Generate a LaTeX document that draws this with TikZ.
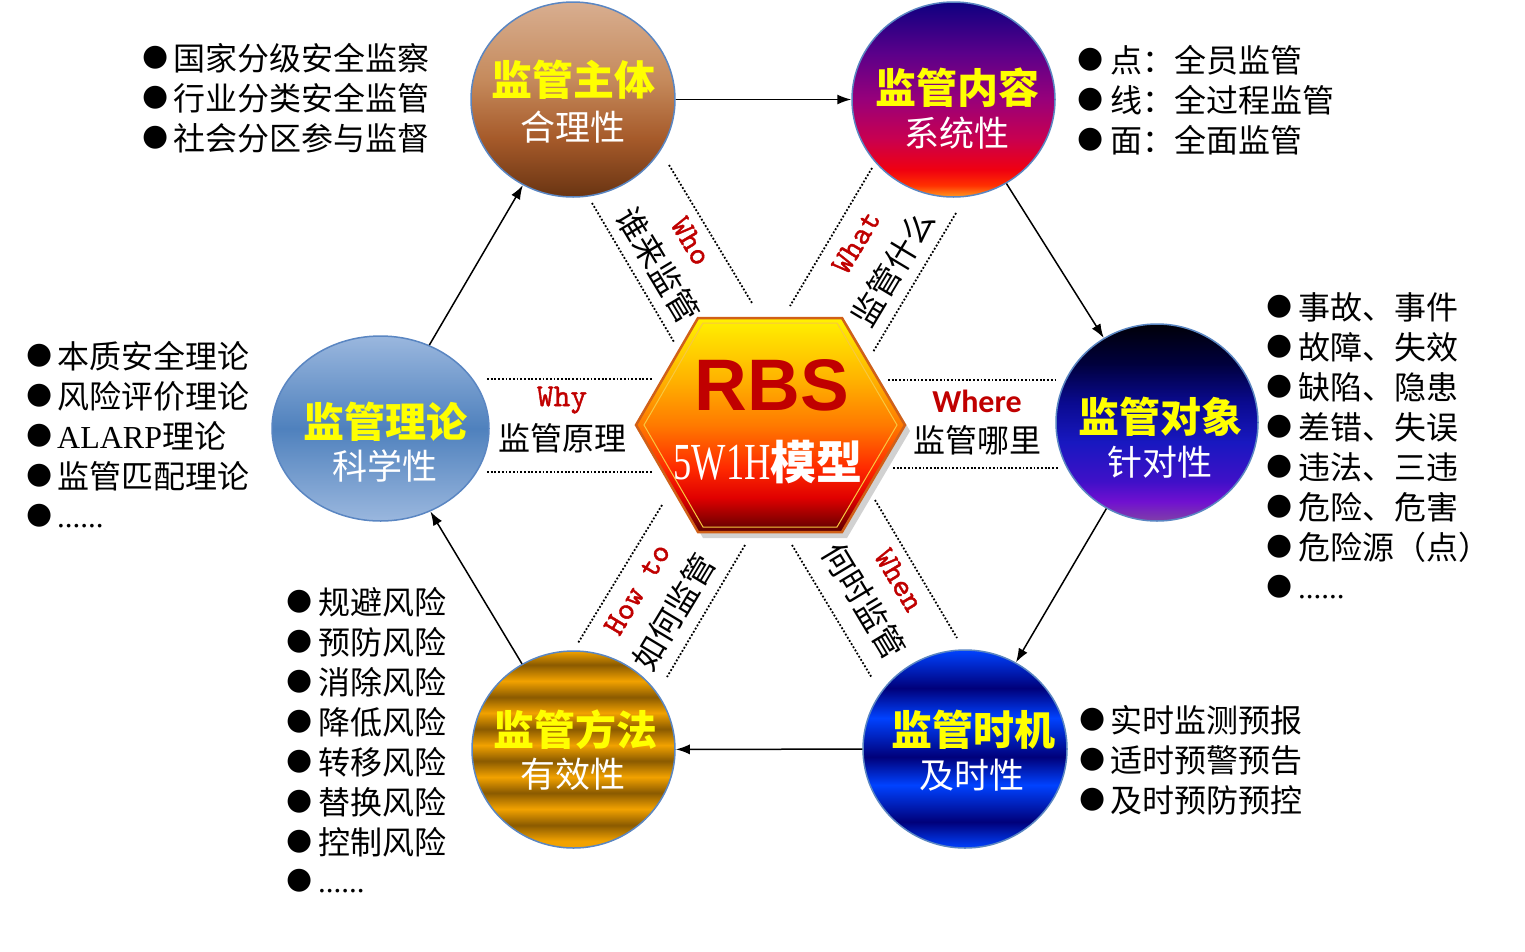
\documentclass[tikz,border=0pt]{standalone}
\usepackage{fontspec}
\setmainfont{Liberation Serif}
\newfontfamily\cjk{Noto Sans CJK SC}
\newfontfamily\sym{DejaVu Sans}
\newfontfamily\narrowserif[FakeStretch=0.7]{Liberation Serif}
\newfontfamily\redmono[FakeBold=1.2]{lmmono10-regular.otf}
\newfontfamily\sansb{Liberation Sans}
\newfontfamily\carl{Carlito}
\usetikzlibrary{shapes.geometric,arrows.meta}

\definecolor{myred}{HTML}{C00000}
\definecolor{titleyellow}{HTML}{FFFF00}
\definecolor{circborder}{HTML}{5A86C2}
\definecolor{br1}{HTML}{D8AE90}
\definecolor{br2}{HTML}{C58A5C}
\definecolor{br3}{HTML}{A65A2A}
\definecolor{br4}{HTML}{693412}
\definecolor{pu1}{HTML}{0E0080}
\definecolor{pu2}{HTML}{5A008A}
\definecolor{pu3}{HTML}{98007A}
\definecolor{pu4}{HTML}{C80050}
\definecolor{pu5}{HTML}{F00010}
\definecolor{pu6}{HTML}{FF3000}
\definecolor{pu7}{HTML}{FF9A20}
\definecolor{db1}{HTML}{000008}
\definecolor{db2}{HTML}{00003C}
\definecolor{db3}{HTML}{0A0A90}
\definecolor{db4}{HTML}{1818C0}
\definecolor{db5}{HTML}{4010C8}
\definecolor{db6}{HTML}{7010D0}
\definecolor{db7}{HTML}{8040A8}
\definecolor{lb1}{HTML}{9AB7DE}
\definecolor{lb2}{HTML}{4F81BD}
\definecolor{hx1}{HTML}{FFF200}
\definecolor{hx2}{HTML}{FFB400}
\definecolor{hx3}{HTML}{FF7A00}
\definecolor{hx4}{HTML}{FF2A00}
\definecolor{hx5}{HTML}{E00000}
\definecolor{hx6}{HTML}{5A0000}
\definecolor{hexborder}{HTML}{D06018}
\definecolor{hexinner}{HTML}{F8C840}
\definecolor{ob}{HTML}{F2A200}
\definecolor{od}{HTML}{8A5A00}
\definecolor{sb}{HTML}{0042FF}
\definecolor{sd}{HTML}{00007A}

\pgfdeclareverticalshading{brownsh}{100bp}{color(0bp)=(br4); color(25bp)=(br4); color(40bp)=(br3); color(55bp)=(br2); color(75bp)=(br1); color(100bp)=(br1)}
\pgfdeclareverticalshading{purplesh}{100bp}{color(0bp)=(pu7); color(25bp)=(pu7); color(28bp)=(pu6); color(32bp)=(pu5); color(40bp)=(pu4); color(50bp)=(pu3); color(62bp)=(pu2); color(75bp)=(pu1); color(100bp)=(pu1)}
\pgfdeclareverticalshading{darkbluesh}{100bp}{color(0bp)=(db7); color(25bp)=(db7); color(30bp)=(db6); color(35bp)=(db5); color(45bp)=(db4); color(55bp)=(db3); color(65bp)=(db2); color(75bp)=(db1); color(100bp)=(db1)}
\pgfdeclareverticalshading{lightbluesh}{100bp}{color(0bp)=(lb1); color(25bp)=(lb1); color(50bp)=(lb2); color(75bp)=(lb1); color(100bp)=(lb1)}
\pgfdeclareverticalshading{hexsh}{100bp}{color(0bp)=(hx6); color(25bp)=(hx6); color(33bp)=(hx5); color(40bp)=(hx4); color(50bp)=(hx3); color(61bp)=(hx2); color(75bp)=(hx1); color(100bp)=(hx1)}
\pgfdeclareverticalshading{orgband}{100bp}{color(0bp)=(ob); color(25bp)=(ob); color(26.8bp)=(ob); color(30.8bp)=(od); color(34.9bp)=(ob); color(39bp)=(od); color(43bp)=(ob); color(47.1bp)=(od); color(51.1bp)=(ob); color(55.2bp)=(od); color(59.3bp)=(ob); color(63.3bp)=(od); color(67.4bp)=(ob); color(71.5bp)=(od); color(75bp)=(ob); color(100bp)=(ob)}
\pgfdeclareverticalshading{blueband}{100bp}{color(0bp)=(sb); color(25bp)=(sb); color(31.6bp)=(sd); color(40.9bp)=(sb); color(48bp)=(sd); color(57.8bp)=(sb); color(65.4bp)=(sd); color(75bp)=(sb); color(100bp)=(sb)}

\begin{document}
\begin{tikzpicture}[x=1pt,y=-1pt,
  circ/.style={ellipse, draw=circborder, line width=1.5, inner sep=0pt, shade},
  ttl/.style={font=\cjk\bfseries\fontsize{41}{46}\selectfont, text=titleyellow, inner sep=0pt},
  subt/.style={font=\cjk\fontsize{35}{40}\selectfont, text=white, inner sep=0pt},
  arr/.style={line width=1.5, -{Latex[length=14pt,width=10pt]}},
  dots/.style={line width=1.8, dash pattern=on 1.8pt off 1.9pt},
  lst/.style={anchor=base west, inner sep=0pt, font=\cjk\fontsize{32}{38}\selectfont},
  dotlst/.style={anchor=base west, inner sep=0pt, font=\rmfamily\fontsize{31}{38}\selectfont},
  bul/.style={inner sep=0pt, font=\sym\fontsize{30}{36}\selectfont},
  redlbl/.style={inner sep=0pt, text=myred, font=\redmono\fontsize{32}{36}\selectfont},
  cnlbl/.style={inner sep=0pt, font=\cjk\fontsize{32}{38}\selectfont}
]
\useasboundingbox (0,0) rectangle (1525,951);
\fill[white] (0,0) rectangle (1525,951);

% dotted guide lines
\draw[dots] (487,379) -- (653,379);
\draw[dots] (487,472) -- (653,472);
\draw[dots] (888,380) -- (1055,380);
\draw[dots] (893,468) -- (1058,468);
\draw[dots] (669,165) -- (752,303);
\draw[dots] (592,203) -- (674,342);
\draw[dots] (872,168) -- (790,306);
\draw[dots] (956,213) -- (873,352);
\draw[dots] (662,505) -- (578,643);
\draw[dots] (745,545) -- (667,677);
\draw[dots] (875,500) -- (957,638);
\draw[dots] (792,545) -- (872,678);

% central hexagon
\fill[black!18] (703,324) -- (847,324) -- (910,431) -- (847,538) -- (703,538) -- (641,431) -- cycle;
\path[shade, shading=hexsh, draw=hexborder, line width=2.5]
  (698,318) -- (842,318) -- (905,425) -- (842,532) -- (698,532) -- (636,425) -- cycle;
\draw[hexinner, line width=1]
  (703,323) -- (837,323) -- (897,425) -- (837,527) -- (703,527) -- (644,425) -- cycle;
\node[inner sep=0pt, text=myred, font=\sansb\bfseries\fontsize{73}{80}\selectfont] (rbs) at (772,385) {RBS};
\node[inner sep=0pt, text=white] (model) at (768,462) {{\narrowserif\fontsize{52}{58}\selectfont 5W1H}{\cjk\bfseries\fontsize{46}{50}\selectfont 模型}};

% circles
\node[circ, shading=brownsh, minimum width=204, minimum height=195] (zt) at (573,99.5) {};
\node[circ, shading=purplesh, minimum width=203, minimum height=195] (nr) at (953.5,99.5) {};
\node[circ, shading=darkbluesh, minimum width=202, minimum height=197] (dx) at (1157,422.5) {};
\node[circ, shading=blueband, minimum width=204, minimum height=198] (sj) at (965,749) {};
\node[circ, shading=orgband, minimum width=203, minimum height=197] (ff) at (573.5,749.5) {};
\node[circ, shading=lightbluesh, minimum width=217, minimum height=185] (ll) at (380.5,428.5) {};

\node[ttl] (zt-a) at (573,80) {监管主体};
\node[subt] (zt-b) at (573,127) {合理性};
\node[ttl] (nr-a) at (957,88) {监管内容};
\node[subt] (nr-b) at (957,133) {系统性};
\node[ttl] (dx-a) at (1160,417) {监管对象};
\node[subt] (dx-b) at (1160,462) {针对性};
\node[ttl] (sj-a) at (973,730) {监管时机};
\node[subt] (sj-b) at (972,775) {及时性};
\node[ttl] (ff-a) at (575,730) {监管方法};
\node[subt] (ff-b) at (573,774) {有效性};
\node[ttl] (ll-a) at (385,422) {监管理论};
\node[subt] (ll-b) at (385,466) {科学性};

% arrows
\draw[arr] (zt) -- (nr);
\draw[arr] (nr) -- (dx);
\draw[arr] (dx) -- (sj);
\draw[arr] (sj) -- (ff);
\draw[arr] (ff) -- (ll);
\draw[arr] (ll) -- (zt);

% 5W1H labels
\node[redlbl] (why) at (562,400) {Why};
\node[cnlbl] (why-c) at (562,438) {监管原理};
\node[inner sep=0pt, text=myred, font=\carl\bfseries\fontsize{32}{36}\selectfont] (where) at (977,401) {Where};
\node[cnlbl] (where-c) at (977,440) {监管哪里};
\node[redlbl, rotate=-59] (who) at (691,241) {Who};
\node[cnlbl, rotate=-59] (who-c) at (658,265) {谁来监管};
\node[redlbl, rotate=59] (what) at (856,242) {What};
\node[cnlbl, rotate=59] (what-c) at (893,268) {监管什么};
\node[redlbl, rotate=59] (howto) at (637,589) {How to};
\node[cnlbl, rotate=59] (howto-c) at (674,612) {如何监管};
\node[redlbl, rotate=-59] (when) at (899,580) {When};
\node[cnlbl, rotate=-59] (when-c) at (864,601) {何时监管};

% lists
\foreach \t [count=\i from 0] in {国家分级安全监察,行业分类安全监管,社会分区参与监督}{
  \node[bul] (a-b\i) at (156,{58+40*\i}) {●};
  \node[lst] (a-t\i) at (173,{70+40*\i}) {\t};
}
\foreach \t [count=\i from 0] in {点：全员监管,线：全过程监管,面：全面监管}{
  \node[bul] (b-b\i) at (1091,{60+40*\i}) {●};
  \node[lst] (b-t\i) at (1110,{72+40*\i}) {\t};
}
\foreach \t [count=\i from 0] in {事故、事件,故障、失效,缺陷、隐患,差错、失误,违法、三违,危险、危害,危险源（点）}{
  \node[bul] (c-b\i) at (1280,{307+40*\i}) {●};
  \node[lst] (c-t\i) at (1298,{319+40*\i}) {\t};
}
\node[bul] (c-b7) at (1280,587) {●};
\node[dotlst] (c-t7) at (1298,598) {......};
\foreach \t [count=\i from 0] in {实时监测预报,适时预警预告,及时预防预控}{
  \node[bul] (d-b\i) at (1093,{720+40*\i}) {●};
  \node[lst] (d-t\i) at (1110,{732+40*\i}) {\t};
}
\foreach \t [count=\i from 0] in {规避风险,预防风险,消除风险,降低风险,转移风险,替换风险,控制风险}{
  \node[bul] (e-b\i) at (300,{602+40*\i}) {●};
  \node[lst] (e-t\i) at (318,{614+40*\i}) {\t};
}
\node[bul] (e-b7) at (300,881) {●};
\node[dotlst] (e-t7) at (318,892) {......};
\foreach \t [count=\i from 0] in {本质安全理论,风险评价理论,\textrm{ALARP}理论,监管匹配理论}{
  \node[bul] (f-b\i) at (40,{356+40*\i}) {●};
  \node[lst] (f-t\i) at (57,{368+40*\i}) {\t};
}
\node[bul] (f-b4) at (40,516) {●};
\node[dotlst] (f-t4) at (57,527) {......};
\end{tikzpicture}
\end{document}
